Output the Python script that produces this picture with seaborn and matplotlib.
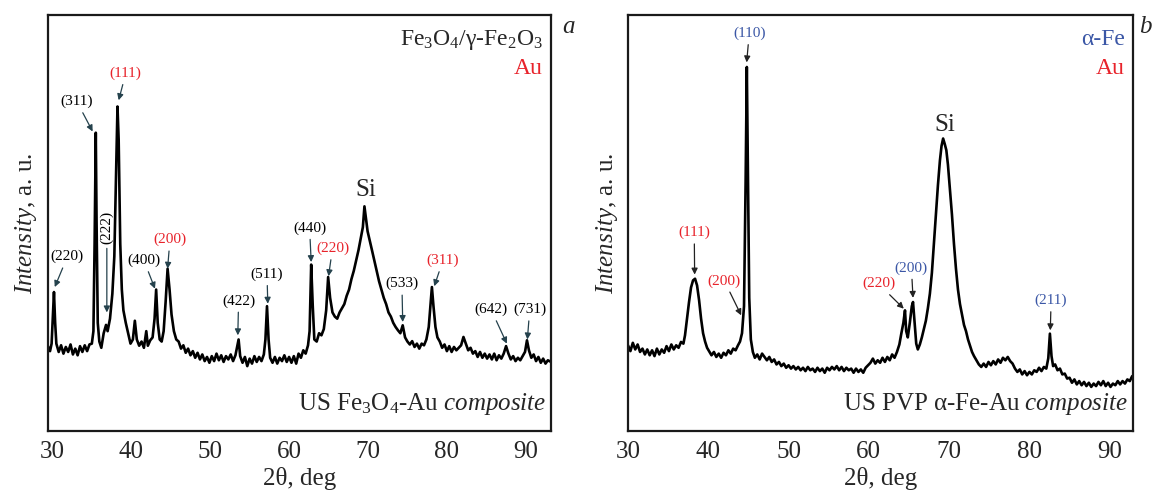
import matplotlib
matplotlib.use("Agg")
import matplotlib.pyplot as plt
import seaborn as sns
from matplotlib.ticker import MultipleLocator

sns.set_style("white")
plt.rcParams["font.family"] = ["Liberation Serif", "DejaVu Serif"]
plt.rcParams["mathtext.fontset"] = "custom"
plt.rcParams["mathtext.rm"] = "Liberation Serif"
plt.rcParams["mathtext.it"] = "Liberation Serif:italic"
plt.rcParams["mathtext.bf"] = "Liberation Serif:bold"

RED = "#e8232b"
BLUE = "#3b57a6"

# ---------- panel a: US Fe3O4-Au composite ----------
two_theta_a = [
    29.4, 29.7, 29.9, 30.05, 30.2, 30.35, 30.5, 30.8, 31.1, 31.4,
    31.7, 32.0, 32.3, 32.6, 32.9, 33.2, 33.5, 33.8, 34.1, 34.4,
    34.7, 35.0, 35.2, 35.35, 35.5, 35.6, 35.75, 35.95, 36.2, 36.5,
    36.8, 37.0, 37.3, 37.6, 37.85, 38.05, 38.25, 38.4, 38.6, 38.8,
    39.0, 39.3, 39.6, 39.9, 40.2, 40.45, 40.7, 41.0, 41.3, 41.6,
    41.9, 42.1, 42.4, 42.7, 42.95, 43.15, 43.35, 43.6, 43.85, 44.1,
    44.35, 44.6, 44.85, 45.1, 45.4, 45.7, 46.0, 46.3, 46.6, 46.9,
    47.2, 47.5, 47.8, 48.1, 48.4, 48.7, 49.0, 49.3, 49.6, 49.9,
    50.2, 50.5, 50.8, 51.1, 51.4, 51.7, 52.0, 52.3, 52.6, 52.9,
    53.2, 53.45, 53.6, 53.8, 54.1, 54.4, 54.7, 55.0, 55.3, 55.6,
    55.9, 56.2, 56.5, 56.8, 57.0, 57.2, 57.4, 57.6, 57.9, 58.2,
    58.5, 58.8, 59.1, 59.4, 59.7, 60.0, 60.3, 60.6, 60.9, 61.2,
    61.5, 61.8, 62.1, 62.4, 62.6, 62.8, 63.0, 63.2, 63.5, 63.8,
    64.1, 64.4, 64.7, 64.95, 65.2, 65.5, 65.8, 66.1, 66.4, 66.7,
    67.0, 67.3, 67.6, 67.9, 68.2, 68.5, 68.8, 69.1, 69.35, 69.55,
    69.75, 69.95, 70.2, 70.5, 70.8, 71.1, 71.4, 71.7, 72.0, 72.3,
    72.6, 72.9, 73.2, 73.5, 73.8, 74.1, 74.4, 74.7, 75.0, 75.3,
    75.6, 75.9, 76.2, 76.5, 76.8, 77.1, 77.4, 77.7, 77.95, 78.1,
    78.3, 78.55, 78.8, 79.1, 79.4, 79.7, 80.0, 80.3, 80.6, 80.9,
    81.2, 81.5, 81.8, 82.1, 82.4, 82.7, 83.0, 83.3, 83.6, 83.9,
    84.2, 84.5, 84.8, 85.1, 85.4, 85.7, 86.0, 86.3, 86.6, 86.9,
    87.2, 87.5, 87.8, 88.1, 88.4, 88.7, 89.0, 89.3, 89.6, 89.9,
    90.15, 90.4, 90.7, 91.0, 91.3, 91.6, 91.9, 92.2, 92.5, 92.8,
    93.2,
]
intensity_a = [
    20.5, 19.2, 21.0, 27.0, 33.4, 26.0, 21.0, 19.0, 20.6, 18.6,
    20.2, 19.0, 20.8, 18.4, 19.8, 18.2, 20.4, 19.0, 20.6, 19.2,
    20.8, 21.0, 24.0, 45.0, 71.7, 50.0, 26.0, 21.5, 20.0, 23.5,
    25.5, 24.0, 27.0, 33.0, 42.0, 60.0, 78.0, 70.0, 45.0, 34.0,
    29.0, 26.0, 23.5, 21.0, 22.0, 26.5, 22.0, 20.5, 21.5, 20.0,
    24.0, 20.5, 21.8, 22.5, 27.0, 34.0, 26.0, 22.0, 21.5, 24.0,
    31.0, 39.0, 34.0, 28.0, 24.0, 22.0, 21.5, 19.8, 20.6, 18.8,
    19.8, 18.2, 19.2, 17.6, 18.8, 17.2, 18.4, 16.8, 17.8, 16.4,
    18.0, 16.8, 18.6, 17.0, 18.2, 16.6, 18.0, 17.2, 18.4, 16.8,
    18.2, 20.5, 22.0, 18.0, 16.4, 17.8, 15.6, 17.4, 16.2, 18.0,
    16.6, 17.8, 16.8, 18.4, 22.0, 30.0, 22.0, 17.6, 16.4, 17.8,
    16.2, 17.6, 16.8, 18.2, 16.6, 17.8, 16.4, 18.0, 16.2, 18.6,
    17.6, 19.4, 18.6, 20.6, 24.0, 40.0, 30.0, 22.0, 21.5, 23.5,
    23.0, 24.5, 29.0, 37.0, 32.0, 28.5, 27.5, 27.0, 28.5, 29.5,
    30.5, 32.5, 34.0, 36.5, 38.5, 41.0, 43.5, 46.5, 49.0, 54.0,
    51.0, 48.0, 46.0, 43.5, 41.0, 38.5, 36.0, 34.0, 32.0, 30.5,
    28.5, 27.5, 26.0, 25.0, 24.2, 23.5, 25.4, 22.5, 21.5, 20.8,
    21.6, 20.2, 21.0, 19.8, 21.0, 20.6, 22.0, 25.0, 31.0, 34.6,
    30.0, 25.0, 22.5, 21.5, 20.0, 20.8, 19.2, 20.4, 19.0, 20.2,
    19.4, 20.0, 20.6, 22.6, 21.0, 19.4, 20.0, 18.6, 19.2, 17.8,
    19.0, 17.6, 18.6, 17.4, 18.4, 17.2, 18.6, 17.0, 18.2, 17.4,
    18.6, 20.4, 18.6, 17.2, 18.0, 16.8, 17.6, 17.0, 18.0, 19.0,
    21.8, 19.4, 17.6, 18.4, 16.8, 17.8, 16.4, 17.4, 16.2, 17.0,
    16.6,
]

# hkl labels: (text, colour, text x, text y, arrow tip x, arrow tip y, rotation)
labels_a = [
    ("(220)", "black", 31.9, 41.9, 30.3, 34.6, 0),
    ("(311)", "black", 33.1, 79.2, 35.1, 72.0, 0),
    ("(111)", RED, 39.3, 86.0, 38.4, 79.5, 0),
    ("(222)", "black", 36.9, 49.0, 36.9, 28.5, 90),
    ("(400)", "black", 41.6, 41.0, 43.0, 34.2, 0),
    ("(200)", RED, 44.9, 46.0, 44.6, 39.0, 0),
    ("(422)", "black", 53.6, 31.3, 53.5, 23.0, 0),
    ("(511)", "black", 57.2, 37.7, 57.3, 30.6, 0),
    ("(440)", "black", 62.6, 48.8, 62.8, 40.6, 0),
    ("(220)", RED, 65.5, 43.9, 65.0, 37.2, 0),
    ("(533)", "black", 74.3, 35.4, 74.4, 26.2, 0),
    ("(311)", RED, 79.5, 41.0, 78.4, 34.8, 0),
    ("(642)", "black", 85.6, 29.2, 87.6, 21.0, 0),
    ("(731)", "black", 90.5, 29.2, 90.2, 22.0, 0),
]

# ---------- panel b: US PVP alpha-Fe-Au composite ----------
two_theta_b = [
    30.0, 30.3, 30.6, 30.9, 31.2, 31.5, 31.8, 32.1, 32.4, 32.7,
    33.0, 33.3, 33.6, 33.9, 34.2, 34.5, 34.8, 35.1, 35.4, 35.7,
    36.0, 36.3, 36.6, 36.9, 37.1, 37.35, 37.6, 37.85, 38.1, 38.35,
    38.6, 38.85, 39.1, 39.35, 39.6, 39.85, 40.1, 40.4, 40.7, 41.0,
    41.3, 41.6, 41.9, 42.2, 42.5, 42.8, 43.1, 43.4, 43.7, 43.95,
    44.2, 44.45, 44.65, 44.8, 44.95, 45.1, 45.3, 45.55, 45.8, 46.1,
    46.4, 46.7, 47.0, 47.3, 47.6, 47.9, 48.2, 48.5, 48.8, 49.1,
    49.4, 49.7, 50.0, 50.3, 50.6, 50.9, 51.2, 51.5, 51.8, 52.1,
    52.4, 52.7, 53.0, 53.3, 53.6, 53.9, 54.2, 54.5, 54.8, 55.1,
    55.4, 55.7, 56.0, 56.3, 56.6, 56.9, 57.2, 57.5, 57.8, 58.1,
    58.4, 58.7, 59.0, 59.3, 59.6, 59.9, 60.2, 60.5, 60.8, 61.1,
    61.4, 61.7, 62.0, 62.3, 62.6, 62.9, 63.2, 63.5, 63.8, 64.05,
    64.3, 64.5, 64.65, 64.85, 65.1, 65.35, 65.5, 65.7, 65.9, 66.1,
    66.35, 66.6, 66.85, 67.1, 67.35, 67.6, 67.85, 68.1, 68.35, 68.6,
    68.85, 69.05, 69.25, 69.45, 69.65, 69.85, 70.1, 70.35, 70.6, 70.85,
    71.1, 71.35, 71.6, 71.85, 72.1, 72.35, 72.6, 72.85, 73.1, 73.4,
    73.7, 74.0, 74.3, 74.6, 74.9, 75.2, 75.5, 75.8, 76.1, 76.4,
    76.7, 77.0, 77.3, 77.6, 77.9, 78.2, 78.5, 78.8, 79.1, 79.4,
    79.7, 80.0, 80.3, 80.6, 80.9, 81.2, 81.5, 81.8, 82.1, 82.35,
    82.55, 82.75, 82.95, 83.2, 83.5, 83.8, 84.1, 84.4, 84.7, 85.0,
    85.3, 85.6, 85.9, 86.2, 86.5, 86.8, 87.1, 87.4, 87.7, 88.0,
    88.3, 88.6, 88.9, 89.2, 89.5, 89.8, 90.1, 90.4, 90.7, 91.0,
    91.3, 91.6, 91.9, 92.2, 92.5, 92.8,
]
intensity_b = [
    20.6, 19.2, 21.2, 19.6, 20.8, 19.0, 19.8, 18.4, 19.6, 18.2,
    19.4, 18.0, 19.8, 18.4, 19.6, 18.8, 20.4, 19.2, 20.8, 19.6,
    20.6, 20.0, 21.4, 21.0, 23.0, 27.0, 31.0, 34.5, 36.2, 36.6,
    35.0, 31.5, 27.0, 23.5, 21.5, 20.0, 19.2, 18.2, 19.0, 17.8,
    18.6, 17.6, 18.8, 18.2, 19.4, 18.6, 19.8, 19.4, 20.6, 21.5,
    23.5, 30.0, 60.0, 87.5, 60.0, 32.0, 22.0, 19.0, 17.6, 18.4,
    17.2, 18.6, 17.8, 17.0, 17.8, 16.6, 17.2, 16.0, 16.6, 15.6,
    16.2, 15.2, 15.8, 15.0, 15.6, 14.8, 15.4, 14.6, 15.2, 14.4,
    15.4, 14.6, 15.0, 14.2, 15.2, 14.4, 15.0, 14.0, 15.2, 14.6,
    15.4, 14.8, 15.6, 14.6, 15.4, 14.4, 15.2, 14.6, 15.0, 14.0,
    15.0, 14.2, 14.8, 14.0, 15.2, 15.8, 16.4, 17.4, 16.2, 17.0,
    16.4, 17.6, 16.6, 17.8, 17.0, 18.4, 17.6, 19.0, 20.8, 23.5,
    26.0, 29.0, 24.0, 22.5, 26.0, 30.0, 31.0, 26.0, 21.0, 19.6,
    20.8, 22.5, 24.5, 26.5, 29.5, 33.0, 38.0, 45.0, 52.0, 59.0,
    65.0, 68.5, 70.3, 69.0, 67.5, 64.0, 58.0, 52.0, 45.0, 39.0,
    34.0, 30.5, 28.0, 25.5, 24.0, 22.0, 20.5, 19.0, 18.0, 17.0,
    16.0, 15.4, 16.2, 15.4, 16.6, 15.8, 16.8, 16.0, 17.2, 16.4,
    17.6, 17.0, 17.8, 16.8, 16.2, 15.0, 14.2, 14.8, 13.6, 14.4,
    13.4, 14.2, 13.6, 14.6, 14.2, 15.2, 14.4, 15.4, 15.0, 17.5,
    23.4, 18.0, 15.6, 16.0, 14.6, 15.0, 13.6, 13.8, 12.6, 12.8,
    11.6, 12.4, 11.2, 12.0, 11.0, 11.8, 10.8, 11.6, 10.6, 11.4,
    10.8, 11.8, 11.0, 12.0, 10.8, 11.6, 10.6, 11.4, 11.0, 12.0,
    11.2, 12.0, 11.4, 12.4, 12.0, 13.2,
]

labels_b = [
    ("(110)", BLUE, 45.1, 95.6, 44.78, 88.6, 0),
    ("(111)", RED, 38.25, 47.7, 38.3, 37.6, 0),
    ("(200)", RED, 42.0, 36.1, 44.1, 27.8, 0),
    ("(220)", RED, 61.2, 35.4, 64.35, 29.4, 0),
    ("(200)", BLUE, 65.3, 39.2, 65.5, 32.0, 0),
    ("(211)", BLUE, 82.7, 31.4, 82.6, 24.2, 0),
]

fig = plt.figure(figsize=(11.54, 4.91), dpi=100)
ax_a = fig.add_axes([0.0413, 0.1222, 0.4362, 0.8473])
ax_b = fig.add_axes([0.5442, 0.1222, 0.4376, 0.8473])


def draw_panel(ax, x, y, labels, xlim, arrow_color):
    sns.lineplot(x=x, y=y, ax=ax, color="black", lw=1.9, sort=False,
                 estimator=None, legend=False)
    ax.set_xlim(*xlim)
    ax.set_ylim(0, 100)
    ax.set_yticks([])
    ax.xaxis.set_major_locator(MultipleLocator(10))
    ax.xaxis.set_minor_locator(MultipleLocator(5))
    ax.tick_params(axis="x", which="major", direction="in", length=6.5,
                   width=1.3, labelsize=18, pad=7, top=False)
    ax.tick_params(axis="x", which="minor", direction="in", length=4.5,
                   width=1.3, top=False)
    for sp in ax.spines.values():
        sp.set_linewidth(1.6)
        sp.set_color("#1a1a1a")
    ax.set_xlabel("2θ, deg", fontsize=18, labelpad=3)
    ax.set_ylabel(r"$\mathit{Intensity}$, a. u.", fontsize=18, labelpad=6)
    for text, col, tx, ty, px, py, rot in labels:
        ax.annotate(text, xy=(px, py), xytext=(tx, ty), color=col,
                    fontsize=11, ha="center", va="center", rotation=rot,
                    arrowprops=dict(arrowstyle="-|>", color=arrow_color,
                                    lw=0.9, mutation_scale=9,
                                    shrinkA=1, shrinkB=0))


draw_panel(ax_a, two_theta_a, intensity_a, labels_a, (29.4, 93.2), "#24414c")
draw_panel(ax_b, two_theta_b, intensity_b, labels_b, (30.0, 92.9), "#222222")

# panel a texts
ax_a.text(69.7, 58.0, "Si", fontsize=18, ha="center", va="center")
ax_a.text(0.984, 0.94, "Fe$_3$O$_4$/γ-Fe$_2$O$_3$", transform=ax_a.transAxes,
          fontsize=17, ha="right", va="center")
ax_a.text(0.984, 0.872, "Au", transform=ax_a.transAxes, fontsize=17,
          ha="right", va="center", color=RED)
ax_a.text(0.99, 0.065, r"US Fe$_3$O$_4$-Au $\mathit{composite}$",
          transform=ax_a.transAxes, fontsize=18, ha="right", va="center")
ax_a.text(1.035, 0.97, "a", transform=ax_a.transAxes, fontsize=18,
          style="italic", ha="center", va="center")

# panel b texts
ax_b.text(69.4, 73.5, "Si", fontsize=18, ha="center", va="center")
ax_b.text(0.984, 0.94, "α-Fe", transform=ax_b.transAxes, fontsize=17,
          ha="right", va="center", color=BLUE)
ax_b.text(0.984, 0.872, "Au", transform=ax_b.transAxes, fontsize=17,
          ha="right", va="center", color=RED)
ax_b.text(0.99, 0.065, r"US PVP α-Fe-Au $\mathit{composite}$",
          transform=ax_b.transAxes, fontsize=18, ha="right", va="center")
ax_b.text(1.024, 0.97, "b", transform=ax_b.transAxes, fontsize=18,
          style="italic", ha="center", va="center")

fig.savefig("out.png", dpi=100)
